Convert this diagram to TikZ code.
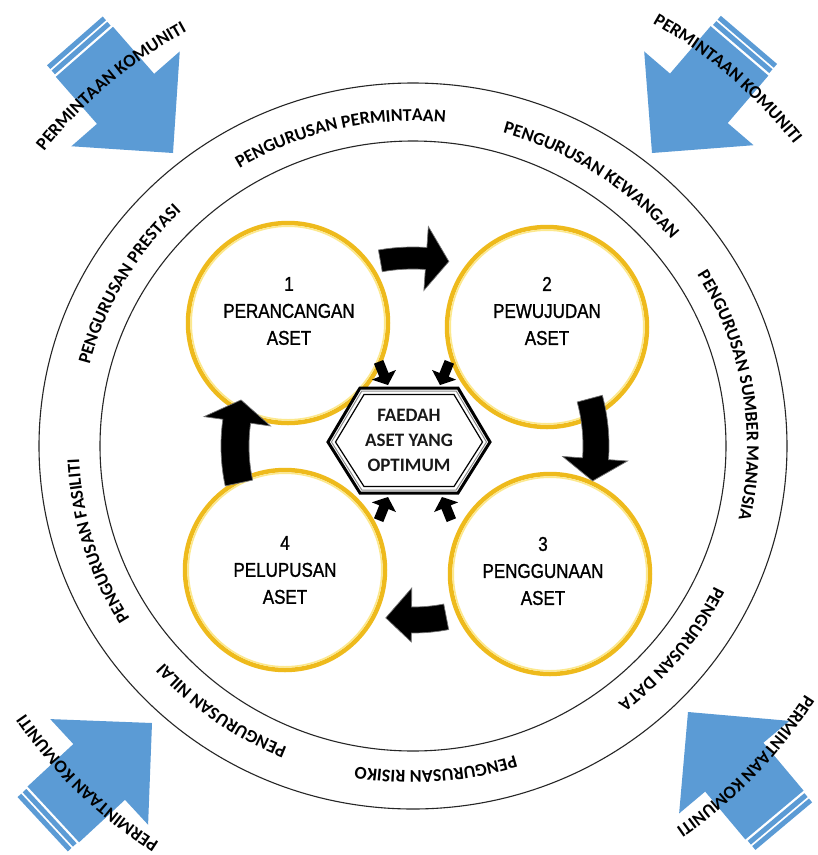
\documentclass[tikz,border=0pt]{standalone}
\usepackage{fontspec}
\setmainfont{Liberation Sans}
\newfontfamily\carlito{Carlito}
\newfontfamily\arialcond[FakeStretch=0.85,FakeBold=1.2]{Liberation Sans}
\usetikzlibrary{decorations.text,calc}
\definecolor{arrowblue}{RGB}{91,155,213}
\definecolor{ringgold}{RGB}{238,186,28}
\definecolor{ringpale}{RGB}{252,232,140}
\newcommand{\ringfont}{\carlito\bfseries\fontsize{18}{18}\selectfont}
\tikzset{
  ringline/.style={draw=black!85, line width=1.1},
  phasecircle/.style={circle, draw=ringgold, line width=4.5, fill=white, minimum size=200, inner sep=0pt},
  phasetext/.style={align=center, font=\arialcond\fontsize{20}{27}\selectfont, inner sep=0pt},
  hextext/.style={align=center, font=\carlito\bfseries\fontsize{19}{25}\selectfont, text=black!90, inner sep=0pt},
  cyclearrow/.style={fill=black, draw=black!55, line width=0.7},
  smallarrow/.style={fill=black},
}
\newcommand{\ringlabel}[2]{%
  \path[decorate, decoration={text along path, text={|\ringfont|#2}, text align=center}]
    (C) ++(#1+45:334 and 325) arc[start angle=#1+45, end angle=#1-45, x radius=334, y radius=325];
}
\newcommand{\cornerlabel}[2]{%
  \path[decorate, decoration={text along path, text={|\ringfont|PERMINTAAN KOMUNITI}, text align=center}]
    (C) ++(#1+30:#2) arc[start angle=#1+30, end angle=#1-30, radius=#2];
}
\newcommand{\bluearrow}[3]{%
  \begin{scope}[shift={(#1,-#2)}, rotate=#3]
    \fill[arrowblue] (0,0) -- (-72,72) -- (-72,38) -- (-134.5,38) -- (-134.5,-38) -- (-72,-38) -- (-72,-72) -- cycle;
    \fill[arrowblue] (-149,-37) rectangle (-144,37);
    \fill[arrowblue] (-142,-37) rectangle (-137,37);
  \end{scope}}
% startangle baseangle tipangle radius outer inner headout headin
\newcommand{\bendarrow}[8]{%
  \begin{scope}[shift={(C)}]
    \filldraw[cyclearrow] (#1:#5) arc[start angle=#1, end angle=#2, radius=#5] -- (#2:#7) -- (#3:#4) -- (#2:#8) -- (#2:#6)
      arc[start angle=#2, end angle=#1, radius=#6] -- cycle;
  \end{scope}}
\newcommand{\tinyarrow}[3]{%
  \begin{scope}[shift={(#1,-#2)}, rotate=#3]
    \fill[smallarrow] (0,0) -- (-11,-13) -- (-11,-5) -- (-25,-5) -- (-25,5) -- (-11,5) -- (-11,13) -- cycle;
  \end{scope}}
\begin{document}
\begin{tikzpicture}[x=1pt,y=1pt]
\useasboundingbox (0,0) rectangle (818,-855);
\clip (0,0) rectangle (818,-855);
\fill[white] (0,0) rectangle (818,-855);
\coordinate (C) at (413,-446);
% rings
\draw[ringline] (C) ellipse[x radius=374, y radius=363];
\draw[ringline] (C) ellipse[x radius=313, y radius=305];
% ring labels
\ringlabel{103}{PENGURUSAN PERMINTAAN}
\ringlabel{56.6}{PENGURUSAN KEWANGAN}
\ringlabel{9.3}{PENGURUSAN SUMBER MANUSIA}
\ringlabel{-38.5}{PENGURUSAN DATA}
\ringlabel{-86}{PENGURUSAN RISIKO}
\ringlabel{-125.5}{PENGURUSAN NILAI}
\ringlabel{-163}{PENGURUSAN FASILITI}
\ringlabel{150}{PENGURUSAN PRESTASI}
% phase circles
\node[phasecircle] (p1) at (288,-323) {};
\node[phasecircle] (p2) at (547,-327) {};
\node[phasecircle] (p3) at (550,-574) {};
\node[phasecircle] (p4) at (285,-570) {};
\foreach \p in {p1,p2,p3,p4}{\draw[ringpale, line width=1.6] (\p.center) circle[radius=96.8];}
\node[phasetext] (t1) at (289,-311) {1\\PERANCANGAN\\ASET};
\node[phasetext] (t2) at (547,-311) {2\\PEWUJUDAN\\ASET};
\node[phasetext] (t3) at (543,-571) {3\\PENGGUNAAN\\ASET};
\node[phasetext] (t4) at (285,-570) {4\\PELUPUSAN\\ASET};
% hexagon
\filldraw[fill=white, draw=black, line width=3] (328,-442) -- (360,-388) -- (458,-388) -- (490,-442) -- (458,-493) -- (360,-493) -- cycle;
\draw[black!45, line width=1] (331.5,-442) -- (361.8,-391) -- (456.2,-391) -- (486.5,-442) -- (456.2,-490) -- (361.8,-490) -- cycle;
\draw[black, line width=1.2] (335.5,-442) -- (364,-394.5) -- (454,-394.5) -- (482.5,-442) -- (454,-486.5) -- (364,-486.5) -- cycle;
\node[hextext] (hex) at (409,-440) {FAEDAH\\ASET YANG\\OPTIMUM};
% cycle arrows
\bendarrow{100}{86}{79}{188}{199}{177}{220}{156}
\bendarrow{15}{-4}{-11}{183}{196}{170}{215}{150}
\bendarrow{-79}{-90.5}{-99}{174}{187}{161}{196}{142}
\bendarrow{192}{172}{165}{178}{192}{164}{211}{144}
% small arrows toward hexagon
\tinyarrow{388}{385}{-68}
\tinyarrow{440}{385}{-112}
\tinyarrow{388}{497}{68}
\tinyarrow{442}{497}{112}
% community demand arrows
\bluearrow{173}{153}{-48.8}
\bluearrow{652}{153}{-130.6}
\bluearrow{152}{723}{42.8}
\bluearrow{688}{712}{130}
\cornerlabel{130}{472}
\cornerlabel{49.4}{486}
\cornerlabel{-134}{471}
\cornerlabel{-43.9}{464}
\end{tikzpicture}
\end{document}
